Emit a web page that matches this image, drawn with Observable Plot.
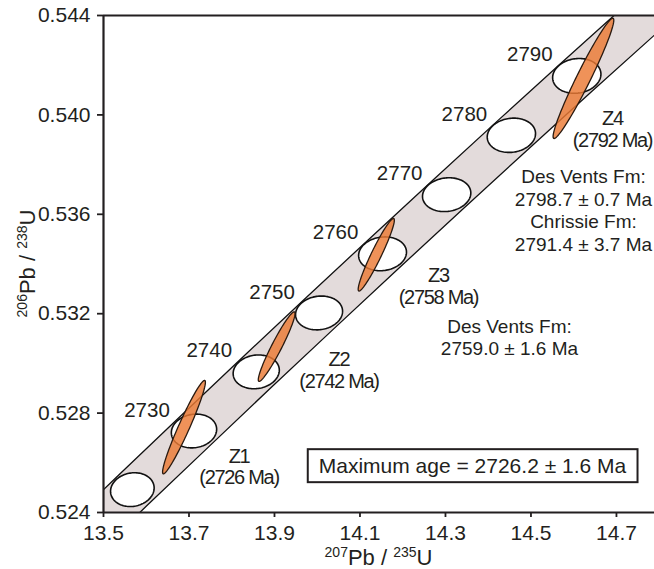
<!DOCTYPE html>
<html>
<head>
<meta charset="utf-8">
<script src="https://cdn.jsdelivr.net/npm/d3@7"></script>
<script src="https://cdn.jsdelivr.net/npm/@observablehq/plot@0.6"></script>
<style>
html, body { margin: 0; padding: 0; background: #fff; }
#chart svg { display: block; }
</style>
</head>
<body>
<div id="chart"></div>
<script>
// ---- axes ----
const xTicks = [13.5, 13.7, 13.9, 14.1, 14.3, 14.5, 14.7];
const yTicks = [0.524, 0.528, 0.532, 0.536, 0.540, 0.544];
const xDomain = [13.5, 14.789];
const yDomain = [0.524, 0.544];

// ---- concordia age markers (decay-constant error ellipses) ----
const markerAges = [2720, 2730, 2740, 2750, 2760, 2770, 2780, 2790];
const markerLabels = ["", "2730", "2740", "2750", "2760", "2770", "2780", "2790"];
const markerX = [13.5675, 13.7117, 13.8573, 14.0043, 14.1528, 14.3028, 14.4542, 14.6072];
const markerY = [0.52492, 0.52728, 0.52966, 0.53203, 0.53441, 0.53679, 0.53918, 0.54157];
const markerSx = [0.051, 0.053, 0.054, 0.055, 0.056, 0.0565, 0.0565, 0.0565];
const markerSy = [0.00068, 0.00068, 0.00068, 0.00068, 0.00068, 0.00068, 0.00069, 0.00070];
const markerRho = [0.1, 0.1, 0.1, 0.1, 0.1, 0.1, 0.1, 0.1];

// ---- concordia band edges ----
const bandAges = [2700, 2710, 2720, 2730, 2740, 2750, 2760, 2770, 2780, 2790, 2800, 2810];
const bandUpperX = [13.2516, 13.3930, 13.5357, 13.6799, 13.8255, 13.9725, 14.1210, 14.2710, 14.4224, 14.5754, 14.7299, 14.8859];
const bandUpperY = [0.52079, 0.52314, 0.52551, 0.52787, 0.53025, 0.53262, 0.53500, 0.53738, 0.53977, 0.54216, 0.54455, 0.54695];
const bandLowerX = [13.3176, 13.4590, 13.6017, 13.7459, 13.8915, 14.0385, 14.1870, 14.3370, 14.4884, 14.6414, 14.7959, 14.9519];
const bandLowerY = [0.51956, 0.52191, 0.52428, 0.52664, 0.52902, 0.53139, 0.53377, 0.53615, 0.53854, 0.54093, 0.54332, 0.54572];

// ---- zircon analyses ----
const zirconNames = ["Z1", "Z2", "Z3", "Z4"];
const zirconAges = [2726, 2742, 2758, 2792];
const zirconX = [13.6883, 13.9051, 14.1381, 14.6228];
const zirconY = [0.527436, 0.530675, 0.534373, 0.541470];
const zirconSx = [0.0501, 0.0430, 0.0423, 0.0710];
const zirconSy = [0.001881, 0.001399, 0.001461, 0.002420];
const zirconRho = [0.960, 0.952, 0.951, 0.967];
const zirconLabelX = [13.8170, 14.0509, 14.2836, 14.6906];
const zirconLabelY = [0.525843, 0.529730, 0.533104, 0.539438];

// ---- annotations ----
const noteTexts = [
  "Des Vents Fm:\n2798.7 ± 0.7 Ma\nChrissie Fm:\n2791.4 ± 3.7 Ma",
  "Des Vents Fm:\n2759.0 ± 1.6 Ma"
];
const noteX = [14.6228, 14.4497];
const noteY = [0.536175, 0.531059];
const maxAgeText = ["Maximum age = 2726.2 ± 1.6 Ma"];
const maxAgeX = [14.3632];
const maxAgeY = [0.525853];

// ---- build shapes ----
function ellipsePoints(id, cx, cy, sx, sy, rho) {
  const k = Math.sqrt(1 - rho * rho);
  const n = 120;
  const pts = [];
  for (let i = 0; i <= n; i++) {
    const t = 2 * Math.PI * i / n;
    pts.push({id, x: cx + sx * Math.cos(t), y: cy + sy * (rho * Math.cos(t) + k * Math.sin(t))});
  }
  return pts;
}
const markerShapes = markerAges.flatMap((a, i) =>
  ellipsePoints(a, markerX[i], markerY[i], markerSx[i], markerSy[i], markerRho[i]));
const zirconShapes = zirconNames.flatMap((n, i) =>
  ellipsePoints(n, zirconX[i], zirconY[i], zirconSx[i], zirconSy[i], zirconRho[i]));
const upperEdge = bandAges.map((a, i) => ({x: bandUpperX[i], y: bandUpperY[i]}));
const lowerEdge = bandAges.map((a, i) => ({x: bandLowerX[i], y: bandLowerY[i]}));
const bandPoly = upperEdge.concat(lowerEdge.slice().reverse(), [upperEdge[0]]);

const labelIdx = markerLabels.map((l, i) => i).filter(i => markerLabels[i] !== "");
const zIdx = zirconNames.map((n, i) => i);
const ink = "#231f20";
const font = "'Liberation Sans', Arial, Helvetica, sans-serif";

const chart = Plot.plot({
  width: 654,
  height: 569,
  marginLeft: 103,
  marginRight: 0,
  marginTop: 15,
  marginBottom: 57,
  x: {domain: xDomain, label: null},
  y: {domain: yDomain, label: null},
  style: {fontFamily: font, fontSize: "21px", color: ink, background: "white"},
  marks: [
    Plot.line(bandPoly, {x: "x", y: "y", fill: "#e3dbdb", stroke: "none", clip: true}),
    Plot.line(upperEdge, {x: "x", y: "y", stroke: "#111", strokeWidth: 1.3, clip: true}),
    Plot.line(lowerEdge, {x: "x", y: "y", stroke: "#111", strokeWidth: 1.3, clip: true}),
    Plot.line(markerShapes, {x: "x", y: "y", z: "id", fill: "white", stroke: "#111", strokeWidth: 1.6, clip: true}),
    Plot.line(zirconShapes, {x: "x", y: "y", z: "id", fill: "#ec7a35", fillOpacity: 0.82, stroke: "#2a1a10", strokeWidth: 1.3, clip: true}),
    Plot.text(labelIdx, {x: i => markerX[i], y: i => markerY[i], text: i => markerLabels[i], dx: -47, dy: -21, fontSize: 20.5, fill: ink}),
    Plot.text(zIdx, {x: i => zirconLabelX[i], y: i => zirconLabelY[i],
      text: i => `${zirconNames[i]}\n(${zirconAges[i]} Ma)`, fontSize: 20, lineHeight: 1.075, fill: ink, ariaDescription: "zlabels"}),
    Plot.text(noteTexts, {x: (d, i) => noteX[i], y: (d, i) => noteY[i], text: d => d, fontSize: 19, lineHeight: 1.18, fill: ink}),
    Plot.text(maxAgeText, {x: (d, i) => maxAgeX[i], y: (d, i) => maxAgeY[i], text: d => d, fontSize: 21, fill: ink, ariaDescription: "maxage"}),
    Plot.axisX(xTicks, {tickSize: 5, tickPadding: 8, strokeWidth: 1.8, tickFormat: d3.format(".1f"), fontSize: 21, label: null, stroke: ink}),
    Plot.axisY(yTicks, {tickSize: 6, tickPadding: 7, strokeWidth: 1.8, tickFormat: d3.format(".3f"), fontSize: 21, label: null, stroke: ink}),
    Plot.ruleX([xDomain[0]], {stroke: ink, strokeWidth: 2.2}),
    Plot.ruleY([yDomain[0]], {stroke: ink, strokeWidth: 2.2}),
    Plot.ruleY([yDomain[1]], {stroke: ink, strokeWidth: 2.2})
  ]
});

document.getElementById("chart").appendChild(chart);

const svg = d3.select(chart);
// condensed look for the zircon labels
svg.selectAll('[aria-description="zlabels"]').attr("letter-spacing", "-1.3")
  .selectAll("text").attr("letter-spacing", "-1.3");

// box around maximum age text
svg.selectAll('[aria-description="maxage"] text').each(function () {
  const b = this.getBBox();
  const padX = 11, padY = 5;
  const tr = this.getAttribute("transform");
  const r = d3.select(this.parentNode).insert("rect", "text")
    .attr("x", b.x - padX).attr("y", b.y - padY)
    .attr("width", b.width + 2 * padX).attr("height", b.height + 2 * padY)
    .attr("fill", "white").attr("stroke", ink).attr("stroke-width", 2);
  if (tr) r.attr("transform", tr);
});

// axis titles with superscripts
const xs = chart.scale("x"), ys = chart.scale("y");
const xMid = (xs.range[0] + xs.range[1]) / 2;
const yMid = (ys.range[0] + ys.range[1]) / 2;
function title(g, pre1, main1, pre2, main2) {
  const t = g.append("text").attr("text-anchor", "middle").attr("fill", ink)
    .attr("font-family", font);
  t.append("tspan").attr("font-size", 14).attr("dy", -8).text(pre1);
  t.append("tspan").attr("font-size", 22).attr("dy", 8).text(main1);
  t.append("tspan").attr("font-size", 14).attr("dy", -8).text(pre2);
  t.append("tspan").attr("font-size", 22).attr("dy", 8).text(main2);
  return t;
}
title(svg.append("g").attr("transform", `translate(${xMid},564.5)`), "207", "Pb / ", "235", "U");
title(svg.append("g").attr("transform", `translate(35,${yMid}) rotate(-90)`), "206", "Pb / ", "238", "U");
</script>
</body>
</html>
